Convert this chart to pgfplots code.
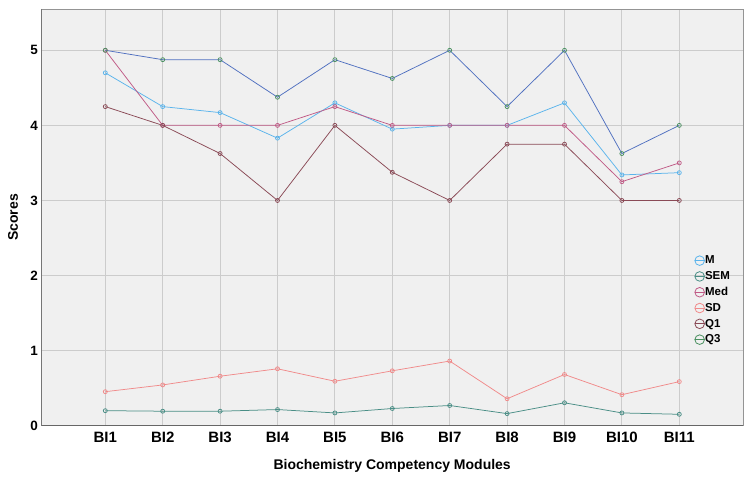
\documentclass[border=0pt]{standalone}
\usepackage{fontspec}
\setmainfont{Liberation Sans}
\usepackage{pgfplots}
\pgfplotsset{compat=1.18}
\definecolor{cM}{HTML}{5AB4EC}
\definecolor{cSEM}{HTML}{4A8E86}
\definecolor{cMed}{HTML}{C05A86}
\definecolor{cSD}{HTML}{F08A8A}
\definecolor{cQ1}{HTML}{8A4A56}
\definecolor{cQ3}{HTML}{5070C0}
\definecolor{cQ3m}{HTML}{4A9060}
\definecolor{bg}{HTML}{F0F0F0}
\definecolor{gridc}{HTML}{CCCCCC}
\begin{document}
\begin{tikzpicture}
\useasboundingbox (-41.3pt,-53.3pt) rectangle (708.7pt,425.7pt);
\begin{axis}[
  at={(0,0)}, anchor=south west,
  scale only axis, width=701.7pt, height=416.7pt,
  xmin=-0.115, xmax=12.11, ymin=0, ymax=5.55,
  xtick={1,...,11},
  xticklabels={BI1,BI2,BI3,BI4,BI5,BI6,BI7,BI8,BI9,BI10,BI11},
  ytick={0,1,2,3,4,5},
  major tick length=0pt,
  grid=major,
  grid style={draw=gridc, line width=0.9pt},
  axis background/.style={fill=bg},
  axis line style={draw=black!42, line width=0.9pt},
  /pgf/number format/assume math mode=true,
  xticklabel style={font=\bfseries\fontsize{15}{17}\selectfont, inner sep=0pt, anchor=north, yshift=-6.5pt},
  yticklabel style={font=\bfseries\fontsize{13.5}{15}\selectfont, inner sep=0pt, anchor=east, xshift=-3.3pt},
  xlabel={Biochemistry Competency Modules},
  ylabel={Scores},
  xlabel style={font=\bfseries\fontsize{14}{16}\selectfont, at={(axis description cs:0.5,-0.1063)}, anchor=base},
  ylabel style={font=\bfseries\fontsize{14}{16}\selectfont, at={(axis description cs:-0.0403,0.5)}, anchor=center, rotate=0},
  legend style={draw=none, fill=none, at={(axis description cs:0.926,0.414)}, anchor=north west,
    font=\bfseries\fontsize{11.5}{13}\selectfont, row sep=5.3pt,
    nodes={inner sep=0pt, text height=8.5pt, text depth=2pt},
    /tikz/every even column/.style={column sep=1.5pt}},
  legend cell align=left,
  every axis plot/.append style={line width=0.75pt, mark=o, mark size=2pt},
]
\addplot[color=cM, legend image code/.code={\draw[cM, line width=0.8pt] (0pt,0pt)--(10pt,0pt); \draw[cM, line width=0.8pt] (5pt,0pt) circle (4.8pt);}]
  coordinates {(1,4.70) (2,4.25) (3,4.17) (4,3.83) (5,4.30) (6,3.95) (7,4.00) (8,4.00) (9,4.30) (10,3.34) (11,3.37)};
\addlegendentry{M}
\addplot[color=cSEM, legend image code/.code={\draw[cSEM, line width=0.8pt] (0pt,0pt)--(10pt,0pt); \draw[cSEM, line width=0.8pt] (5pt,0pt) circle (4.8pt);}]
  coordinates {(1,0.200) (2,0.193) (3,0.193) (4,0.215) (5,0.170) (6,0.229) (7,0.269) (8,0.161) (9,0.305) (10,0.170) (11,0.152)};
\addlegendentry{SEM}
\addplot[color=cMed, legend image code/.code={\draw[cMed, line width=0.8pt] (0pt,0pt)--(10pt,0pt); \draw[cMed, line width=0.8pt] (5pt,0pt) circle (4.8pt);}]
  coordinates {(1,5.00) (2,4.00) (3,4.00) (4,4.00) (5,4.25) (6,4.00) (7,4.00) (8,4.00) (9,4.00) (10,3.25) (11,3.50)};
\addlegendentry{Med}
\addplot[color=cSD, legend image code/.code={\draw[cSD, line width=0.8pt] (0pt,0pt)--(10pt,0pt); \draw[cSD, line width=0.8pt] (5pt,0pt) circle (4.8pt);}]
  coordinates {(1,0.453) (2,0.543) (3,0.659) (4,0.758) (5,0.592) (6,0.731) (7,0.861) (8,0.359) (9,0.682) (10,0.413) (11,0.587)};
\addlegendentry{SD}
\addplot[color=cQ1, legend image code/.code={\draw[cQ1, line width=0.8pt] (0pt,0pt)--(10pt,0pt); \draw[cQ1, line width=0.8pt] (5pt,0pt) circle (4.8pt);}]
  coordinates {(1,4.25) (2,4.00) (3,3.625) (4,3.00) (5,4.00) (6,3.375) (7,3.00) (8,3.75) (9,3.75) (10,3.00) (11,3.00)};
\addlegendentry{Q1}
\addplot[color=cQ3, mark options={draw=cQ3m}, legend image code/.code={\draw[cQ3m, line width=0.8pt] (0pt,0pt)--(10pt,0pt); \draw[cQ3m, line width=0.8pt] (5pt,0pt) circle (4.8pt);}]
  coordinates {(1,5.00) (2,4.875) (3,4.875) (4,4.375) (5,4.875) (6,4.625) (7,5.00) (8,4.25) (9,5.00) (10,3.625) (11,4.00)};
\addlegendentry{Q3}
\draw[black!60, line width=1pt] (rel axis cs:0,1) -- (rel axis cs:0,0) -- (rel axis cs:1,0);
\end{axis}
\end{tikzpicture}
\end{document}
